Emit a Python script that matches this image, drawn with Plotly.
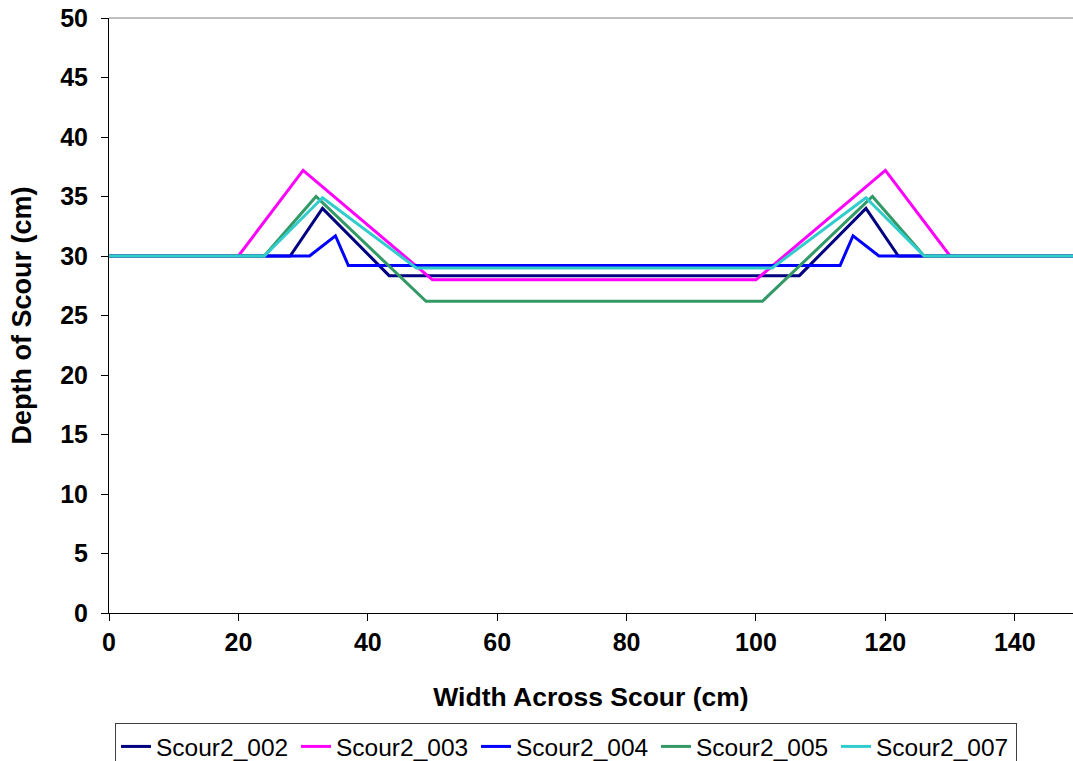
import plotly.graph_objects as go

# Data (x in cm, y = depth in cm)
x_002 = [0, 28, 33, 43.3, 106.7, 117, 122, 150]
y_002 = [30, 30, 34.0, 28.35, 28.35, 34.0, 30, 30]

x_003 = [0, 20, 30, 50, 100, 120, 130, 150]
y_003 = [30, 30, 37.2, 28.0, 28.0, 37.2, 30, 30]

x_004 = [0, 31, 35, 37, 113, 115, 119, 150]
y_004 = [30, 30, 31.7, 29.2, 29.2, 31.7, 30, 30]

x_005 = [0, 24, 32, 49, 101, 118, 126, 150]
y_005 = [30, 30, 35.0, 26.2, 26.2, 35.0, 30, 30]

x_007 = [0, 24, 33, 47.5, 102.5, 117, 126, 150]
y_007 = [30, 30, 34.9, 29.0, 29.0, 34.9, 30, 30]

series = [
    ("Scour2_002", x_002, y_002, "#000080"),
    ("Scour2_003", x_003, y_003, "#FF00FF"),
    ("Scour2_004", x_004, y_004, "#0000FF"),
    ("Scour2_005", x_005, y_005, "#339966"),
    ("Scour2_007", x_007, y_007, "#33CCCC"),
]

fig = go.Figure()
for name, xs, ys, col in series:
    fig.add_trace(go.Scatter(x=xs, y=ys, mode="lines", name=name,
                             line=dict(color=col, width=3)))

font_family = "Liberation Sans, Arial, sans-serif"

fig.update_layout(
    width=1073, height=761,
    margin=dict(l=109, r=0, t=18, b=148),
    paper_bgcolor="white", plot_bgcolor="white",
    font=dict(family=font_family, color="black"),
    showlegend=True,
    legend=dict(orientation="h", xref="container", yref="container",
                x=115 / 1073, xanchor="left", y=(761 - 723) / 761, yanchor="top",
                bordercolor="#404040", borderwidth=1, bgcolor="white",
                font=dict(size=24.5, family=font_family), itemwidth=30,
                entrywidth=135, tracegroupgap=0),
    xaxis=dict(range=[0, 149], tickvals=[0, 20, 40, 60, 80, 100, 120, 140],
               automargin=False,
               showgrid=False, zeroline=False, showline=True, linecolor="black",
               linewidth=1, ticks="outside", ticklen=7, tickcolor="black",
               tickfont=dict(size=25, family=font_family, weight="bold"),
               title=dict(text="<b>Width Across Scour (cm)</b>", font=dict(size=26.5),
                          standoff=32)),
    yaxis=dict(range=[0, 50], tickvals=list(range(0, 51, 5)),
               automargin=False,
               showgrid=False, zeroline=False, showline=True, linecolor="black",
               linewidth=1, ticks="outside", ticklen=7, tickcolor="black",
               tickfont=dict(size=25, family=font_family, weight="bold"),
               ticklabelstandoff=8,
               title=dict(text="<b>Depth of Scour (cm)</b>", font=dict(size=27),
                          standoff=20)),
    shapes=[dict(type="line", xref="paper", yref="paper", x0=0, x1=1, y0=1, y1=1,
                 line=dict(color="#808080", width=1))],
)

fig.write_html("out.html")
